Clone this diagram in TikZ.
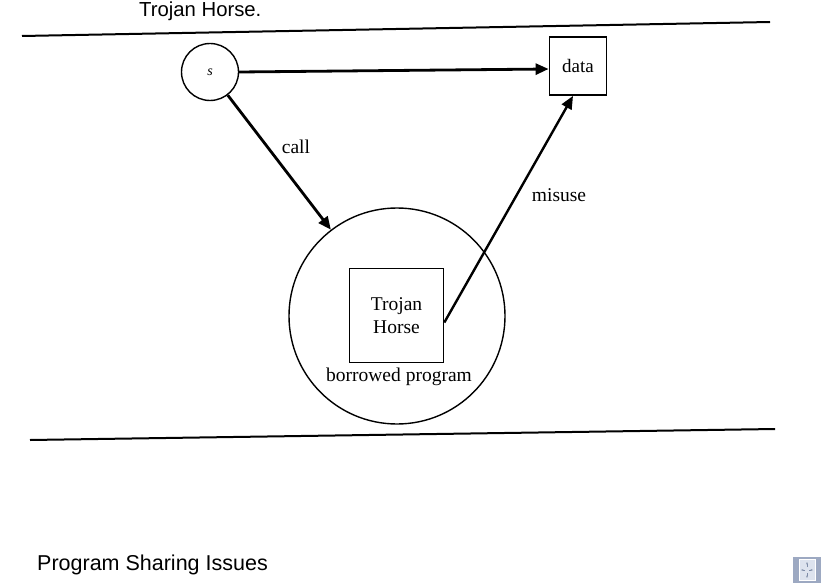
\documentclass[tikz,border=0pt]{standalone}
\usepackage{fontspec}
\setmainfont{Liberation Serif}
\newfontfamily\arialfont{Liberation Sans}
\usetikzlibrary{arrows.meta}
\definecolor{iconout}{HTML}{9DA9C2}
\definecolor{iconin}{HTML}{DDE3EE}
\definecolor{iconarrow}{HTML}{7F8DA8}
\begin{document}
\begin{tikzpicture}[x=1pt,y=-1pt,
  serif/.style={font=\fontsize{19.5}{21}\selectfont, inner sep=0pt},
  sans/.style={font=\arialfont\fontsize{20.3}{22}\selectfont, inner sep=0pt, anchor=west},
  bar/.style={line width=2pt},
  conn/.style={line width=2.8pt, -{Triangle[length=13pt,width=11pt]}},
  thinconn/.style={line width=2.4pt, -{Triangle[length=13pt,width=11pt]}},
  iconarr/.style={iconarrow, -{Stealth[length=2.5pt]}, line width=0.7pt}]
\useasboundingbox (0,0) rectangle (832,583);
% titles
\node[sans] (title) at (139,11) {Trojan Horse.};
\node[sans, font=\arialfont\fontsize{21.5}{23}\selectfont] (caption) at (37,565) {Program Sharing Issues};
% horizontal rules
\coordinate (tl) at (22,36);
\coordinate (tr) at (770,22);
\coordinate (bl) at (30,440);
\coordinate (br) at (775,429);
\draw[bar] (tl) -- (tr);
\draw[bar] (bl) -- (br);
% nodes
\node[draw, circle, line width=1.4pt, minimum size=57pt, inner sep=0pt,
      font=\itshape\fontsize{14}{15}\selectfont] (s) at (210,72) {s};
\node[draw, line width=1.8pt, minimum width=57pt, minimum height=58pt, inner sep=0pt,
      font=\fontsize{19}{20}\selectfont] (data) at (578,66) {data};
\node[draw, circle, line width=1.4pt, minimum size=216pt, inner sep=0pt] (big) at (397,316) {};
\node[draw, line width=1.6pt, minimum width=94pt, minimum height=94pt, inner sep=0pt,
      align=center, font=\fontsize{19.5}{22.5}\selectfont] (th) at (396.5,315.5) {Trojan\\Horse};
\node[serif] (bp) at (399,377) {borrowed program};
% connectors
\draw[conn] (s.east) -- ([yshift=-3pt]data.west);
\draw[conn] (s) -- (big);
\draw[thinconn] (th.east) ++(0,7) coordinate (thout) (thout) -- ([xshift=-5pt]data.south);
% labels
\node[serif] (call) at (296,147) {call};
\node[serif] (misuse) at (559,195) {misuse};
% corner icon
\node[fill=iconout, minimum width=28pt, minimum height=27pt, inner sep=0pt] (icon) at (807,570) {};
\node[draw=white, fill=iconin, line width=1pt, minimum width=16pt, minimum height=21pt, inner sep=0pt] (iconinner) at (icon) {};
\draw[iconarr] (iconinner.center) ++(-2,0) -- ++(-4,0);
\draw[iconarr] (iconinner.center) ++(2,0) -- ++(4,0);
\draw[iconarr] (iconinner.center) ++(0,-3) -- ++(0,-5);
\draw[iconarr] (iconinner.center) ++(0,3) -- ++(0,5);
\end{tikzpicture}
\end{document}
